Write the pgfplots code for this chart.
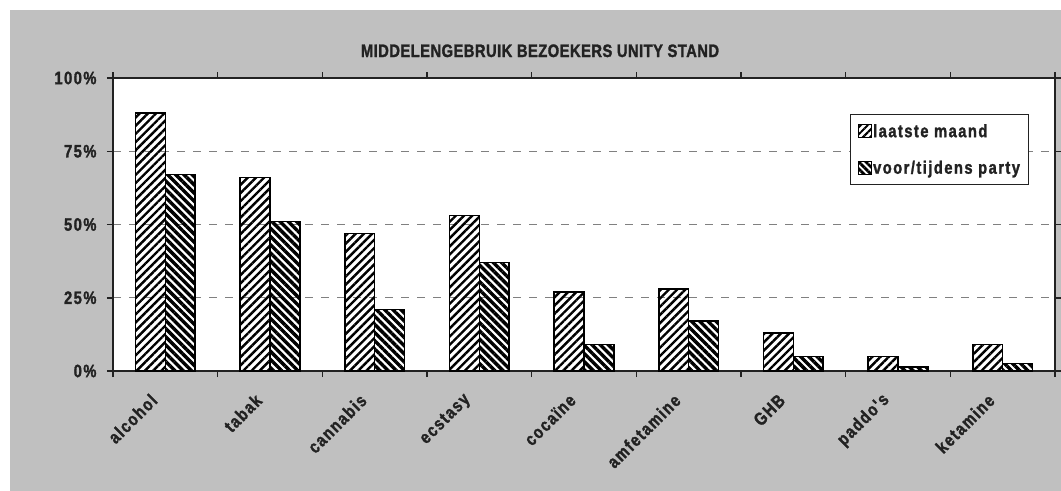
\documentclass[border=0pt]{standalone}
\usepackage{fontspec}
\usepackage{pgfplots}
\pgfplotsset{compat=1.18}
\usetikzlibrary{patterns.meta}
\setmainfont{Liberation Sans}
\newfontfamily\lblfam{Liberation Sans}[UprightFont={* Bold}, FakeStretch=0.82, FakeBold=1.5, LetterSpace=8]
\newfontfamily\titlefam{Liberation Sans}[UprightFont={* Bold}, FakeStretch=0.82, FakeBold=1.5, LetterSpace=2.5]
\newcommand\lblfont{\lblfam\fontsize{18bp}{21bp}\selectfont}
\newcommand\titlefont{\titlefam\fontsize{18bp}{21bp}\selectfont}
\definecolor{bggray}{HTML}{C0C0C0}
\definecolor{axisdark}{HTML}{222222}
\definecolor{gridgray}{HTML}{808080}
\begin{document}
\begin{tikzpicture}
\useasboundingbox (0bp,0bp) rectangle (1061bp,-491bp);
\fill[white] (0bp,0bp) rectangle (1061bp,-491bp);
\fill[bggray] (10bp,-10bp) rectangle (1061bp,-491bp);
\node[anchor=base, font=\titlefont, text=axisdark] at (540bp,-57bp) {MIDDELENGEBRUIK BEZOEKERS UNITY STAND};
\begin{axis}[
 at={(113bp,-371bp)}, anchor=south west,
 scale only axis, width=942bp, height=293bp,
 xmin=-0.5, xmax=8.5, ymin=0, ymax=1,
 axis background/.style={fill=white},
 axis line style={draw=axisdark, line width=1.5bp},
 tick align=outside, major tick length=6bp,
 every tick/.style={draw=axisdark, line width=1.5bp},
 xtick={-0.5,0.5,...,8.5}, xticklabels={},
 extra x ticks={0,1,...,8},
 extra x tick labels={alcohol,tabak,cannabis,ecstasy,cocaïne,amfetamine,GHB,paddo's,ketamine},
 extra x tick style={major tick length=0bp},
 xticklabel style={font=\lblfont, text=axisdark, xshift=-9bp, yshift=-24bp, rotate=45, anchor=east},
 ytick={0,0.25,0.5,0.75,1},
 yticklabels={0\%,25\%,50\%,75\%,100\%},
 yticklabel style={font=\lblfont, text=axisdark, xshift=-7bp},
 ymajorgrids, y grid style={gridgray, line width=1.2bp, dash pattern=on 8bp off 8bp},
 ybar=0pt, bar width=0.285,
 legend style={at={(0.7824,0.877)}, anchor=north west, draw=axisdark, line width=1.2bp, fill=white, font=\lblfont, text=axisdark, inner xsep=7bp, inner ysep=8bp, row sep=19bp, nodes={inner sep=1.5bp}},
 legend cell align=left,
]
\addplot[draw=black, line width=1.5bp, pattern={Lines[angle=45,distance=5.8bp,line width=2.4bp]},
  legend image code/.code={\draw[pattern={Lines[angle=45,distance=5bp,line width=2bp]}, draw=black, line width=1bp] (0bp,-6.5bp) rectangle (13bp,6.5bp);}]
  coordinates {(0,0.88) (1,0.66) (2,0.47) (3,0.53) (4,0.27) (5,0.28) (6,0.13) (7,0.05) (8,0.09)};
\addlegendentry{laatste maand}
\addplot[draw=black, line width=1.5bp, pattern={Lines[angle=-45,distance=5.8bp,line width=3.4bp]},
  legend image code/.code={\draw[pattern={Lines[angle=-45,distance=5bp,line width=2.8bp]}, draw=black, line width=1bp] (0bp,-6.5bp) rectangle (13bp,6.5bp);}]
  coordinates {(0,0.67) (1,0.51) (2,0.21) (3,0.37) (4,0.09) (5,0.17) (6,0.05) (7,0.014) (8,0.026)};
\addlegendentry{voor/tijdens party}
\end{axis}
\end{tikzpicture}
\end{document}
